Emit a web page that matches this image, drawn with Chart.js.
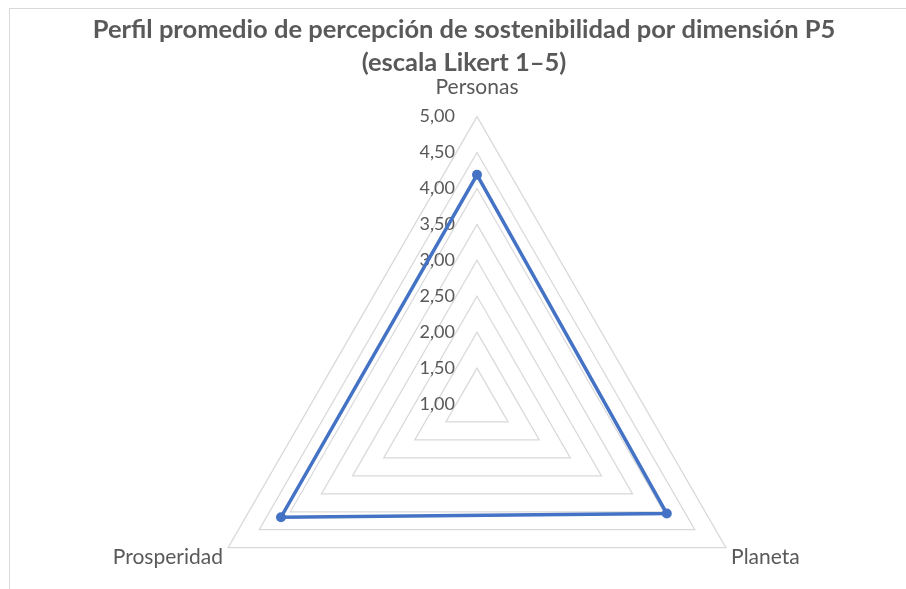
<!DOCTYPE html>
<html lang="es">
<head>
<meta charset="utf-8">
<title>Perfil promedio P5</title>
<script src="https://cdn.jsdelivr.net/npm/chart.js@4.4.1/dist/chart.umd.min.js"></script>
<style>
  html, body { margin: 0; padding: 0; background: #ffffff; overflow: hidden; width: 906px; height: 589px; }
  #marco {
    position: absolute; left: 9px; top: 8px; width: 1000px; height: 700px;
    border: 1px solid #d9d9d9;
  }
  #grafico { position: absolute; left: 0; top: 0; width: 906px; height: 710px; }
</style>
</head>
<body>
<div id="marco"></div>
<div id="grafico"><canvas id="radar"></canvas></div>
<script>
const dimensiones = ['Personas', 'Planeta', 'Prosperidad'];
const promedios = [4.19, 4.05, 4.15];
const escala = [1.0, 1.5, 2.0, 2.5, 3.0, 3.5, 4.0, 4.5, 5.0];
const titulo = ['Perfil promedio de percepción de sostenibilidad por dimensión P5', '(escala Likert 1–5)'];

const gris = '#595959';
const azul = '#4472C4';

const formato = v => v.toFixed(2).replace('.', ',');

// Etiquetas de la escala a la izquierda del eje de Personas, bajo la línea
const etiquetasEscala = {
  id: 'etiquetasEscala',
  beforeDatasetsDraw(chart) {
    const s = chart.scales.r;
    const ctx = chart.ctx;
    ctx.save();
    ctx.font = '18px Lato';
    ctx.fillStyle = gris;
    ctx.textAlign = 'right';
    ctx.textBaseline = 'middle';
    s.ticks.forEach(t => {
      const d = s.getDistanceFromCenterForValue(t.value);
      ctx.fillText(formato(t.value), s.xCenter - 22, s.yCenter - d);
    });
    ctx.restore();
  }
};

new Chart(document.getElementById('radar'), {
  type: 'radar',
  data: {
    labels: dimensiones,
    datasets: [{
      data: promedios,
      borderColor: azul,
      backgroundColor: 'transparent',
      borderWidth: 3.5,
      pointRadius: 5,
      pointHoverRadius: 5,
      pointBackgroundColor: azul,
      pointBorderWidth: 0,
      fill: false
    }]
  },
  options: {
    responsive: true,
    maintainAspectRatio: false,
    animation: false,
    layout: { padding: { left: 92, right: 70, top: 0, bottom: 0 } },
    plugins: {
      legend: { display: false },
      tooltip: { enabled: false },
      title: {
        display: true,
        text: titulo,
        color: gris,
        font: { family: 'Lato', size: 25.5, weight: 'bold', lineHeight: 33 / 25.5 },
        padding: { top: 13, bottom: -15 }
      }
    },
    scales: {
      r: {
        min: escala[0],
        max: escala[escala.length - 1],
        afterBuildTicks: s => { s.ticks = escala.map(v => ({ value: v })); },
        ticks: { display: false },
        angleLines: { display: false },
        grid: { color: '#d9d9d9', lineWidth: 1.25 },
        pointLabels: {
          color: gris,
          font: { family: 'Lato', size: 21, lineHeight: 0.6 },
          padding: c => c.index === 0 ? 23 : 6
        }
      }
    }
  },
  plugins: [etiquetasEscala]
});
</script>
</body>
</html>
